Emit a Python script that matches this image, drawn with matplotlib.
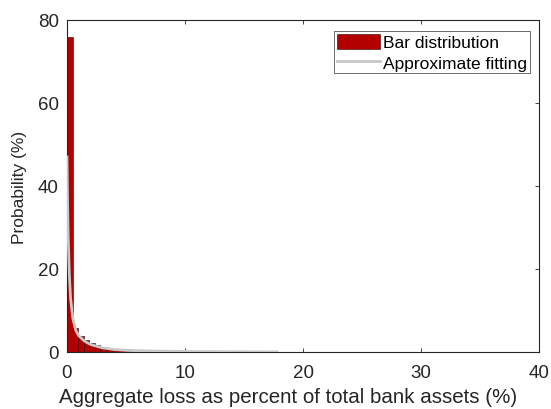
import numpy as np
import matplotlib.pyplot as plt

plt.rcParams['font.family'] = ['Liberation Sans', 'DejaVu Sans']

# histogram of aggregate loss (% of total bank assets), 80 bins over 0..37.8
bin_width = 0.4725
bar_heights = [76.0, 5.8, 3.8, 2.8, 2.1, 1.6, 1.2, 0.95, 0.75, 0.6,
               0.5, 0.42, 0.35, 0.3, 0.25, 0.2, 0.17, 0.15, 0.12, 0.1,
               0.09, 0.08, 0.07, 0.06, 0.05, 0.05, 0.04, 0.04, 0.03, 0.03,
               0.03, 0.02, 0.02, 0.02, 0.02, 0.01, 0.01, 0.01, 0.01, 0.01,
               0.01, 0.01, 0.0, 0.0, 0.0, 0.0, 0.0, 0.0, 0.0, 0.0,
               0.0, 0.0, 0.0, 0.0, 0.0, 0.0, 0.0, 0.0, 0.0, 0.0,
               0.0, 0.0, 0.0, 0.0, 0.0, 0.0, 0.0, 0.0, 0.0, 0.0,
               0.0, 0.0, 0.0, 0.0, 0.0, 0.0, 0.0, 0.0, 0.0, 0.0]
bar_left = np.arange(len(bar_heights)) * bin_width

# approximate fitting curve
fit_x = [0, 0.05, 0.1, 0.2, 0.3, 0.5, 0.75, 1.0, 1.5, 2.0, 3.0, 4.0, 5.0, 6.0, 8.0, 10.0, 14.0, 17.8]
fit_y = [47, 36, 28, 18.5, 13, 8.0, 5.2, 3.9, 2.6, 1.8, 1.0, 0.6, 0.4, 0.3, 0.2, 0.12, 0.06, 0.03]

fig = plt.figure(figsize=(5.51, 4.10), dpi=100)
ax = fig.add_axes([67 / 551, 1 - 353 / 410, 472 / 551, 332 / 410])

bars = ax.bar(bar_left, bar_heights, width=bin_width, align='edge', color='#b30000',
              edgecolor='#300000', linewidth=0.4, zorder=2)
line, = ax.plot(fit_x, fit_y, color='#c8c8c8', linewidth=2, zorder=3)

ax.set_xlim(0, 40)
ax.set_ylim(0, 80)
ax.set_xticks([0, 10, 20, 30, 40])
ax.set_yticks([0, 20, 40, 60, 80])
ax.tick_params(direction='in', length=3, width=0.6, labelsize=13.5, colors='#262626',
               top=True, right=True)
ax.tick_params(axis='x', pad=9)
ax.tick_params(axis='y', pad=6)
for s in ax.spines.values():
    s.set_linewidth(0.8)
    s.set_color('#262626')

ax.set_xlabel('Aggregate loss as percent of total bank assets (%)', fontsize=14.8, color='#262626')
ax.xaxis.set_label_coords(0.468, -0.105)
ax.set_ylabel('Probability (%)', fontsize=12.5, color='#262626')
ax.yaxis.set_label_coords(-0.085, 0.5)

leg = ax.legend([bars, line], ['Bar distribution', 'Approximate fitting'],
                loc='upper right', bbox_to_anchor=((530 - 67) / 472, (353 - 32) / 332),
                fontsize=12.5, frameon=True, fancybox=False,
                edgecolor='#262626', handlelength=2.5, handleheight=1.0, handletextpad=0.2,
                borderpad=0.15, labelspacing=0.2, borderaxespad=0)
leg.get_frame().set_linewidth(0.6)

fig.savefig('out.png', dpi=100)
